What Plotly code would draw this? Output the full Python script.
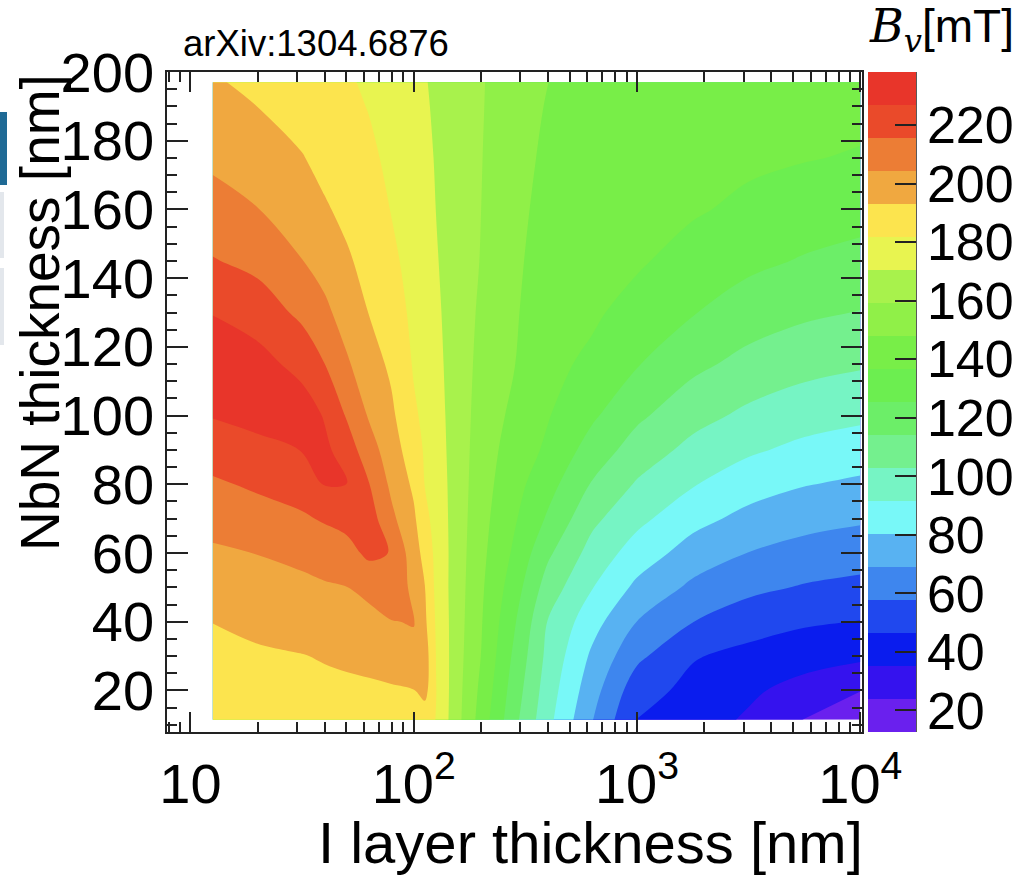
import plotly.graph_objects as go

# ---------------------------------------------------------------------------
# Vortex penetration field B_v [mT] of an NbN / insulator multilayer
# sampled on a grid of I-layer thickness (columns) x NbN thickness (rows)
# ---------------------------------------------------------------------------
i_layer_nm = [12.6, 20, 31.6, 39.8, 50.1, 63.1, 79.4, 100, 112, 126, 158,
              200, 282, 398, 631, 1000, 1778, 3162, 5623, 10000]
nbn_nm = [11.5, 20, 30, 40, 50, 60, 70, 80, 90, 100, 115, 130, 145,
          160, 175, 190, 197]

bv_d11 = [187, 188, 189, 189, 189, 188.5, 188, 188, 186, 181.5, 162, 143.4, 117.3, 95, 69.4, 45.8, 40.2, 33.7, 23.5, 14.5]
bv_d20 = [188.8, 189.8, 190.7, 191, 191.2, 191.5, 192, 192.8, 197, 182, 162.4, 145.5, 120, 97.3, 73.4, 51.1, 43.2, 37.1, 31, 24.2]
bv_d30 = [190.9, 191.9, 192.8, 193.7, 194.7, 195.8, 197.8, 200.8, 199, 181.5, 162.9, 147.9, 123.2, 99.9, 78.2, 60.3, 47.3, 43.3, 39.7, 37.5]
bv_d40 = [193.2, 195.2, 197.1, 198.4, 199.3, 200.8, 203.9, 205, 195.4, 180.5, 163.4, 148.9, 126.7, 102.5, 84.4, 68.9, 57.9, 51.3, 47.9, 46.1]
bv_d50 = [197.9, 199.9, 201.7, 203.1, 204.2, 207.5, 212.5, 201.5, 193.5, 179.1, 163.8, 149.8, 130.8, 109, 92, 77.8, 66.7, 60.5, 56.8, 54.7]
bv_d60 = [202.7, 204.6, 207.3, 209.6, 211.9, 218, 215.2, 198.3, 189.5, 178.8, 164.2, 150.8, 134.9, 116.2, 98.5, 86.5, 75.4, 68.8, 64.9, 62.8]
bv_d70 = [208.2, 211, 214.2, 216.7, 219.1, 221, 207, 195, 185.1, 177.6, 164.6, 151.7, 138, 124, 105.4, 94.5, 83.9, 77, 72.9, 70.5]
bv_d80 = [214, 217.4, 220.6, 227.3, 227.5, 216, 202.1, 191.1, 181.6, 176.5, 164.9, 152.7, 140.5, 129.6, 113.1, 101.7, 92.3, 85.2, 80.8, 78.3]
bv_d90 = [220.7, 224, 227.2, 229.5, 221.5, 209.1, 198.6, 186.8, 180.7, 175.3, 165.1, 153.6, 142.9, 134.8, 120.5, 109.1, 99.6, 93.2, 88.8, 86.1]
bv_d100 = [227.5, 230.2, 233, 226.1, 214.7, 203.3, 195.2, 183.3, 179.8, 174.4, 165.2, 154.6, 145.4, 137.4, 127.1, 116.3, 106.7, 100.4, 96.2, 93.7]
bv_d115 = [235.4, 231, 223.2, 215.8, 205.8, 197.9, 191.1, 180.9, 178.4, 173.2, 165.3, 156, 148.3, 139, 134.9, 126.1, 116.9, 110.6, 106.5, 104.1]
bv_d130 = [226.4, 221.7, 213.2, 206.9, 199.6, 192.8, 187.8, 179.1, 177.1, 172.2, 165.3, 157.4, 149.3, 140.7, 138, 133.5, 126, 119.9, 116, 113.7]
bv_d145 = [216.3, 212.5, 204.6, 200.1, 194.4, 189.9, 184.4, 177.4, 175.8, 171.2, 165.2, 158.8, 150.3, 142.3, 139.8, 137.8, 133.1, 127.9, 124.5, 122.1]
bv_d160 = [208.5, 204.6, 199, 194.2, 190.7, 186.9, 181.4, 175.8, 174.4, 170.4, 165, 159.3, 151.4, 143.9, 141.6, 139.7, 137.7, 134.7, 131.3, 129.3]
bv_d175 = [202.3, 198.7, 193.6, 190.2, 187.6, 184, 179.4, 174.5, 173, 169.8, 164.8, 159.6, 152.4, 145.6, 143.4, 141.7, 139.9, 138.4, 137.2, 135.8]
bv_d190 = [198, 193, 188.9, 186.6, 184.5, 181.3, 177.5, 173.2, 171.7, 169.1, 164.5, 159.9, 153.4, 147.2, 145.2, 143.6, 142, 140.9, 140.1, 139.5]
bv_d197 = [194.5, 190, 186.8, 185, 183, 180.3, 176.6, 172.8, 171.1, 168.9, 164.4, 160, 153.9, 148, 146, 144.5, 143, 142, 141.5, 141]

bv_mT = [bv_d11, bv_d20, bv_d30, bv_d40, bv_d50, bv_d60, bv_d70, bv_d80,
         bv_d90, bv_d100, bv_d115, bv_d130, bv_d145, bv_d160, bv_d175,
         bv_d190, bv_d197]

# contour levels and colour-bar span
level_start = 23.88
level_step = 11.28
level_end = 226.92
scale_min = 12.6
scale_max = 238.2

# one colour per filled band, lowest band first
band_colors = ["#6A20EE", "#3512EE", "#0A1CEE", "#2048EE", "#3E86EE",
               "#58B2F2", "#78F8F8", "#76F4C4", "#74F08E", "#6CEE68",
               "#6CEE50", "#78EE48", "#90F048", "#A8F24C", "#E8F450",
               "#FCE44E", "#F0A840", "#EC7D35", "#EA4A2A", "#E8352A"]

# axis ticks
x_major = [10, 100, 1000, 10000]
x_major_text = ["10", "10<sup>2</sup>", "10<sup>3</sup>", "10<sup>4</sup>"]
x_minor = [8, 9] + [k * 10 ** n for n in (1, 2, 3) for k in range(2, 10)]
y_major = list(range(20, 201, 20))
y_minor = [v for v in range(10, 200, 5) if v % 20]
bar_ticks = list(range(20, 221, 20))

# ---------------------------------------------------------------------------
W, H = 1017, 875
ML, MR, MT, MB = 167, 155, 72, 143
PW, PH = W - ML - MR, H - MT - MB


def px_x(p):
    return (p - ML) / PW


def px_y(p):
    return (H - MB - p) / PH


FONT = "Liberation Sans"
INK = "#222222"

n_levels = len(band_colors) - 1
contour_scale = [[j / n_levels, c] for j, c in enumerate(band_colors)]
bar_scale = []
for k, c in enumerate(band_colors):
    bar_scale.append([k / len(band_colors), c])
    bar_scale.append([(k + 1) / len(band_colors), c])

fig = go.Figure()

fig.add_trace(go.Contour(
    x=i_layer_nm, y=nbn_nm, z=bv_mT,
    autocontour=False,
    contours=dict(start=level_start, end=level_end, size=level_step,
                  coloring="fill", showlines=False),
    colorscale=contour_scale,
    line=dict(width=0, smoothing=1.0),
    showscale=False,
    hoverinfo="skip",
))

# colour bar with full-height bands
fig.add_trace(go.Scatter(
    x=[None], y=[None], mode="markers", showlegend=False, hoverinfo="skip",
    marker=dict(
        color=[scale_min], cmin=scale_min, cmax=scale_max,
        colorscale=bar_scale, showscale=True,
        colorbar=dict(
            thicknessmode="pixels", thickness=48,
            lenmode="pixels", len=PH,
            x=px_x(868), xanchor="left", xpad=0,
            y=0.5, yanchor="middle", ypad=0,
            tickmode="array", tickvals=bar_ticks,
            ticks="inside", ticklen=21, tickwidth=1.6, tickcolor=INK,
            tickfont=dict(family=FONT, size=52, color="black"),
            outlinewidth=0,
        ),
    ),
))

axis_common = dict(
    showline=True, linecolor=INK, linewidth=1.5, mirror="ticks",
    ticks="inside", tickwidth=1.6, tickcolor=INK,
    showgrid=False, zeroline=False,
    tickfont=dict(family=FONT, size=56, color="black"),
)

fig.update_xaxes(
    type="log", range=[0.8952, 4.0076],
    tickmode="array", tickvals=x_major, ticktext=x_major_text, ticklen=20,
    minor=dict(tickmode="array", tickvals=x_minor, ticks="inside",
               ticklen=10, tickwidth=1.6, tickcolor=INK),
    ticklabelstandoff=2,
    **axis_common,
)
fig.update_yaxes(
    range=[7.9, 200],
    tickmode="array", tickvals=y_major, ticklen=21,
    minor=dict(tickmode="array", tickvals=y_minor, ticks="inside",
               ticklen=10, tickwidth=1.6, tickcolor=INK),
    ticklabelstandoff=0,
    **axis_common,
)

annotations = [
    dict(text="NbN thickness [nm]", textangle=-90,
         x=px_x(40), y=px_y(313), xanchor="center", yanchor="middle",
         font=dict(family=FONT, size=55, color="black")),
    dict(text="I layer thickness [nm]",
         x=px_x(590), y=px_y(842), xanchor="center", yanchor="middle",
         font=dict(family=FONT, size=58, color="black")),
    dict(text="arXiv:1304.6876",
         x=px_x(181), y=px_y(43), xanchor="left", yanchor="middle",
         font=dict(family=FONT, size=36.5, color="black")),
    dict(text="<span style='font-family:DejaVu Serif'><i>B</i><sub><i>v</i></sub></span>[mT]",
         x=px_x(1016), y=px_y(30), xanchor="right", yanchor="middle",
         font=dict(family=FONT, size=46, color="black")),
]
for a in annotations:
    a.update(xref="paper", yref="paper", showarrow=False)

shapes = [
    # right edge of the colour bar
    dict(type="line", xref="paper", yref="paper",
         x0=px_x(916), x1=px_x(916), y0=0, y1=1,
         line=dict(color=INK, width=1.5)),
    # slide-edge tabs
    dict(type="rect", xref="paper", yref="paper",
         x0=px_x(0), x1=px_x(7), y0=px_y(185), y1=px_y(112),
         line=dict(width=0), fillcolor="#1f6a95"),
    dict(type="rect", xref="paper", yref="paper",
         x0=px_x(0), x1=px_x(4), y0=px_y(258), y1=px_y(192),
         line=dict(width=0), fillcolor="#e3e7ec"),
    dict(type="rect", xref="paper", yref="paper",
         x0=px_x(0), x1=px_x(4), y0=px_y(345), y1=px_y(268),
         line=dict(width=0), fillcolor="#e3e7ec"),
]

fig.update_layout(
    width=W, height=H,
    margin=dict(l=ML, r=MR, t=MT, b=MB, pad=0, autoexpand=False),
    paper_bgcolor="white", plot_bgcolor="white",
    showlegend=False,
    annotations=annotations,
    shapes=shapes,
)

fig.write_html("out.html")
